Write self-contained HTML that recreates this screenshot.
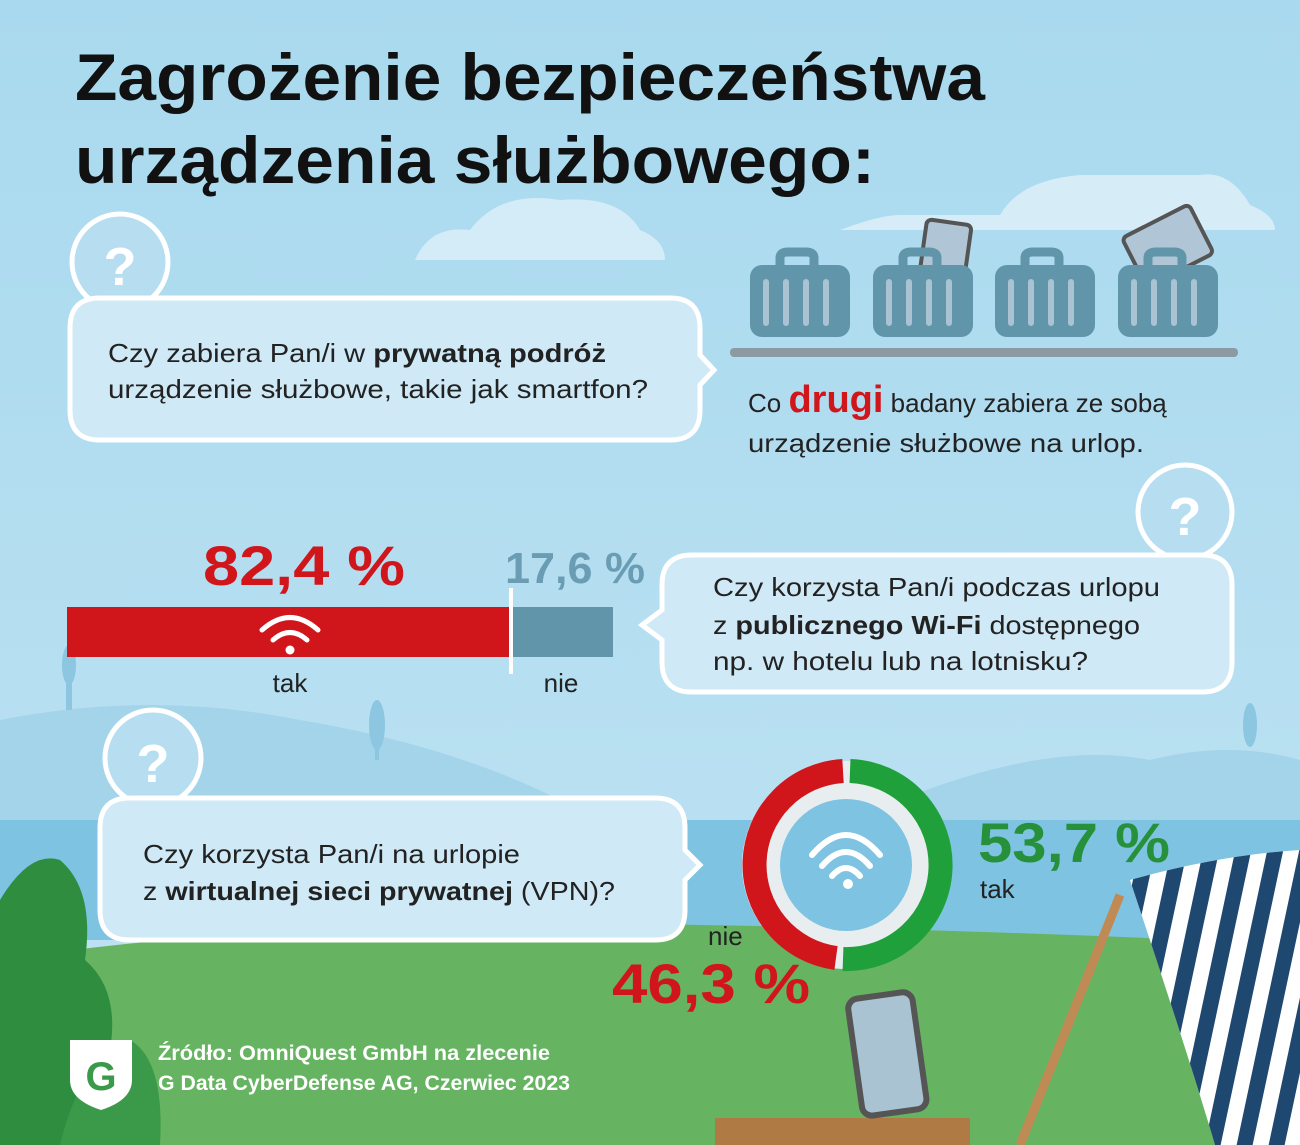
<!DOCTYPE html>
<html><head><meta charset="utf-8"><style>
body{margin:0;width:1300px;height:1145px;overflow:hidden}
svg{display:block}
text{font-family:"Liberation Sans",sans-serif}
</style></head><body>
<svg width="1300" height="1145" viewBox="0 0 1300 1145" xmlns="http://www.w3.org/2000/svg">
<defs>
<linearGradient id="sky" x1="0" y1="0" x2="0" y2="1"><stop offset="0" stop-color="#a9d9ee"/><stop offset="1" stop-color="#bfe3f3"/></linearGradient>
<clipPath id="chairclip"><path d="M1130 880 Q1220 855 1300 850 L1300 1145 L1215 1145 Q1190 1060 1130 880 Z"/></clipPath>
</defs>
<rect width="1300" height="1145" fill="url(#sky)"/>
<path d="M415 260 Q430 225 470 230 Q500 190 560 200 Q620 195 640 230 Q665 240 665 260 Z" fill="#d3ecf7"/>
<path d="M840 230 Q880 215 900 215 L1000 215 Q1020 180 1080 175 L1200 175 Q1230 170 1250 205 Q1275 215 1275 230 Z" fill="#d6edf8"/>
<path d="M0 720 Q150 690 300 720 Q450 745 560 800 L560 830 L0 830 Z" fill="#a3d4ea"/>
<path d="M900 800 Q1050 740 1150 760 Q1230 740 1300 760 L1300 830 L900 830 Z" fill="#a3d4ea"/>
<rect x="66" y="650" width="6" height="60" fill="#8cc6e0"/><ellipse cx="69" cy="665" rx="7" ry="20" fill="#8cc6e0"/>
<ellipse cx="377" cy="725" rx="8" ry="25" fill="#8cc6e0"/><rect x="375" y="730" width="4" height="30" fill="#8cc6e0"/>
<ellipse cx="1250" cy="725" rx="7" ry="22" fill="#8cc6e0"/>
<rect x="0" y="820" width="1300" height="120" fill="#7ec3e1"/>
<path d="M0 960 Q300 915 700 925 Q1000 930 1300 945 L1300 1145 L0 1145 Z" fill="#66b462"/>
<path d="M0 900 Q30 850 60 860 Q95 890 85 960 Q120 990 110 1050 Q150 1070 140 1145 L0 1145 Z" fill="#2f8d3f"/>
<path d="M60 1145 Q80 1060 130 1040 Q165 1060 160 1145 Z" fill="#3a9a49"/>
<text x="75" y="100" font-size="66" font-weight="bold" fill="#111" textLength="910" lengthAdjust="spacingAndGlyphs">Zagrożenie bezpieczeństwa</text>
<text x="75" y="183" font-size="66" font-weight="bold" fill="#111" textLength="800" lengthAdjust="spacingAndGlyphs">urządzenia służbowego:</text>
<circle cx="120" cy="262" r="48" fill="#b6def0" stroke="#fff" stroke-width="5"/>
<path d="M100 300 L95 330 L140 305 Z" fill="#b6def0"/>
<text x="120" y="285" font-size="54" font-weight="bold" fill="#fff" text-anchor="middle">?</text>
<path d="M100 298 L670 298 Q700 298 700 328 L700 355 L714 370 L700 385 L700 410 Q700 440 670 440 L100 440 Q70 440 70 410 L70 328 Q70 298 100 298 Z" fill="#cfe9f6" stroke="#fff" stroke-width="5"/>
<text x="108" y="362" font-size="26" fill="#222" textLength="498" lengthAdjust="spacingAndGlyphs">Czy zabiera Pan/i w <tspan font-weight="bold">prywatną podróż</tspan></text>
<text x="108" y="398" font-size="26" fill="#222" textLength="540" lengthAdjust="spacingAndGlyphs">urządzenie służbowe, takie jak smartfon?</text>
<g>
<rect x="923" y="222" width="45" height="60" rx="5" transform="rotate(8 945 250)" fill="#b0c6d6" stroke="#555" stroke-width="4"/>
<rect x="1130" y="218" width="75" height="55" rx="5" transform="rotate(-27 1168 245)" fill="#b0c6d6" stroke="#555" stroke-width="4"/>
<g fill="#6095aa">
<rect x="750" y="265" width="100" height="72" rx="12"/><rect x="873" y="265" width="100" height="72" rx="12"/><rect x="995" y="265" width="100" height="72" rx="12"/><rect x="1118" y="265" width="100" height="72" rx="12"/>
</g>
<g fill="none" stroke="#6095aa" stroke-width="9">
<path d="M780 266 L780 258 Q780 252 788 252 L806 252 Q814 252 814 258 L814 266"/>
<path d="M903 266 L903 258 Q903 252 911 252 L929 252 Q937 252 937 258 L937 266"/>
<path d="M1025 266 L1025 258 Q1025 252 1033 252 L1051 252 Q1059 252 1059 258 L1059 266"/>
<path d="M1148 266 L1148 258 Q1148 252 1156 252 L1174 252 Q1182 252 1182 258 L1182 266"/>
</g>
<g stroke="#a9c3d3" stroke-width="6" stroke-linecap="round">
<path d="M766 282 V323 M786 282 V323 M806 282 V323 M826 282 V323"/>
<path d="M889 282 V323 M909 282 V323 M929 282 V323 M949 282 V323"/>
<path d="M1011 282 V323 M1031 282 V323 M1051 282 V323 M1071 282 V323"/>
<path d="M1134 282 V323 M1154 282 V323 M1174 282 V323 M1194 282 V323"/>
</g>
<rect x="730" y="348" width="508" height="9" rx="4" fill="#8c9aa4"/>
</g>
<text x="748" y="412" font-size="26" fill="#222">Co <tspan font-size="38" font-weight="bold" fill="#d0151b">drugi</tspan> badany zabiera ze sobą</text>
<text x="748" y="452" font-size="26" fill="#222" textLength="396" lengthAdjust="spacingAndGlyphs">urządzenie służbowe na urlop.</text>
<text x="203" y="585" font-size="56" font-weight="bold" fill="#d0151b" textLength="202" lengthAdjust="spacingAndGlyphs">82,4 %</text>
<text x="505" y="583" font-size="44" font-weight="bold" fill="#6a9db4" textLength="140" lengthAdjust="spacingAndGlyphs">17,6 %</text>
<rect x="67" y="607" width="444" height="50" fill="#d0151b"/>
<rect x="512" y="607" width="101" height="50" fill="#6095aa"/>
<rect x="509" y="588" width="4" height="86" fill="#fff"/>
<g fill="none" stroke="#fff" stroke-width="5" stroke-linecap="round">
<path d="M262 630 Q290 605 318 630"/><path d="M273 640 Q290 625 307 640"/></g>
<circle cx="290" cy="650" r="4.5" fill="#fff"/>
<text x="290" y="692" font-size="26" fill="#222" text-anchor="middle">tak</text>
<text x="561" y="692" font-size="26" fill="#222" text-anchor="middle">nie</text>
<circle cx="1185" cy="512" r="47" fill="#b6def0" stroke="#fff" stroke-width="5"/>
<path d="M1165 552 L1150 578 L1205 555 Z" fill="#b6def0"/>
<text x="1185" y="535" font-size="54" font-weight="bold" fill="#fff" text-anchor="middle">?</text>
<path d="M692 555 L1202 555 Q1232 555 1232 585 L1232 662 Q1232 692 1202 692 L692 692 Q662 692 662 662 L662 640 L642 625 L662 610 L662 585 Q662 555 692 555 Z" fill="#cfe9f6" stroke="#fff" stroke-width="5"/>
<text x="713" y="596" font-size="26" fill="#222" textLength="447" lengthAdjust="spacingAndGlyphs">Czy korzysta Pan/i podczas urlopu</text>
<text x="713" y="634" font-size="26" fill="#222" textLength="427" lengthAdjust="spacingAndGlyphs">z <tspan font-weight="bold">publicznego Wi-Fi</tspan> dostępnego</text>
<text x="713" y="670" font-size="26" fill="#222" textLength="375" lengthAdjust="spacingAndGlyphs">np. w hotelu lub na lotnisku?</text>
<circle cx="153" cy="758" r="48" fill="#b6def0" stroke="#fff" stroke-width="5"/>
<path d="M140 798 L145 825 L185 800 Z" fill="#b6def0"/>
<text x="153" y="782" font-size="54" font-weight="bold" fill="#fff" text-anchor="middle">?</text>
<path d="M130 798 L655 798 Q685 798 685 828 L685 850 L700 865 L685 880 L685 910 Q685 940 655 940 L130 940 Q100 940 100 910 L100 828 Q100 798 130 798 Z" fill="#cfe9f6" stroke="#fff" stroke-width="5"/>
<text x="143" y="863" font-size="26" fill="#222" textLength="377" lengthAdjust="spacingAndGlyphs">Czy korzysta Pan/i na urlopie</text>
<text x="143" y="900" font-size="26" fill="#222" textLength="472" lengthAdjust="spacingAndGlyphs">z <tspan font-weight="bold">wirtualnej sieci prywatnej</tspan> (VPN)?</text>
<circle cx="846" cy="865" r="104" fill="#e8eef0"/>
<circle cx="846" cy="865" r="66" fill="#7ec3e1"/>
<path d="M843 771 A94 94 0 0 0 836 958" fill="none" stroke="#d0151b" stroke-width="24"/>
<path d="M850 771 A94 94 0 0 1 843 959" fill="none" stroke="#20a03a" stroke-width="24"/>
<g fill="none" stroke="#fff" stroke-width="6" stroke-linecap="round">
<path d="M812 855 Q846 815 880 855"/><path d="M822 866 Q846 838 870 866"/><path d="M832 876 Q846 860 860 876"/></g>
<circle cx="848" cy="884" r="5" fill="#fff"/>
<text x="978" y="862" font-size="56" font-weight="bold" fill="#26903a" textLength="192" lengthAdjust="spacingAndGlyphs">53,7 %</text>
<text x="980" y="898" font-size="26" fill="#222">tak</text>
<text x="708" y="945" font-size="26" fill="#222">nie</text>
<text x="612" y="1003" font-size="56" font-weight="bold" fill="#d0151b" textLength="198" lengthAdjust="spacingAndGlyphs">46,3 %</text>
<rect x="715" y="1118" width="255" height="27" fill="#b07a45"/>
<rect x="855" y="995" width="65" height="118" rx="10" transform="rotate(-8 887 1055)" fill="#a9c3d3" stroke="#555" stroke-width="6"/>
<g clip-path="url(#chairclip)">
<rect x="1100" y="840" width="200" height="310" fill="#fff"/>
<g fill="#1f4870" transform="skewX(-12)">
<rect x="1320" y="840" width="16" height="310"/><rect x="1352" y="840" width="16" height="310"/><rect x="1384" y="840" width="16" height="310"/><rect x="1416" y="840" width="16" height="310"/><rect x="1448" y="840" width="16" height="310"/><rect x="1480" y="840" width="16" height="310"/><rect x="1512" y="840" width="16" height="310"/>
</g>
</g>
<path d="M1120 895 L1020 1145" stroke="#c08a55" stroke-width="9"/>
<path d="M70 1040 L132 1040 L132 1080 Q132 1100 101 1110 Q70 1100 70 1080 Z" fill="#fff"/>
<text x="101" y="1090" font-size="40" font-weight="bold" fill="#3a9a49" text-anchor="middle">G</text>
<text x="158" y="1060" font-size="21" font-weight="bold" fill="#fff" textLength="392" lengthAdjust="spacingAndGlyphs">Źródło: OmniQuest GmbH na zlecenie</text>
<text x="158" y="1090" font-size="21" font-weight="bold" fill="#fff" textLength="412" lengthAdjust="spacingAndGlyphs">G Data CyberDefense AG, Czerwiec 2023</text>
</svg>
</body></html>
